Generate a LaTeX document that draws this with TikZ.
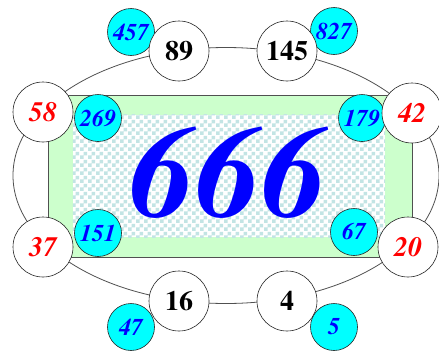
\documentclass[tikz,border=0pt]{standalone}
\usepackage{fontspec}
\setmainfont{TeX Gyre Termes}
\usetikzlibrary{patterns}
\definecolor{ringgray}{HTML}{505050}
\definecolor{paleGreen}{HTML}{CCFFCC}
\definecolor{checkc}{HTML}{C2E4E4}
\definecolor{aqua}{HTML}{00FFFF}
\definecolor{pureblue}{HTML}{0000FF}
\definecolor{purered}{HTML}{FF0000}
\pgfdeclarepatternformonly{mychecker}{\pgfqpoint{0pt}{0pt}}{\pgfqpoint{8pt}{8pt}}{\pgfqpoint{8pt}{8pt}}{%
  \pgfpathrectangle{\pgfqpoint{0pt}{0pt}}{\pgfqpoint{4pt}{4pt}}%
  \pgfpathrectangle{\pgfqpoint{4pt}{4pt}}{\pgfqpoint{4pt}{4pt}}%
  \pgfusepath{fill}}
\tikzset{
  outer/.style={circle, draw=black!85, fill=white, minimum size=60pt, inner sep=0pt, line width=0.6pt},
  rednum/.style={text=purered, font=\bfseries\itshape\fontsize{28}{28}\selectfont},
  blknum/.style={text=black, font=\bfseries\fontsize{28}{28}\selectfont},
  inner/.style={circle, draw=black!85, fill=aqua, minimum size=47pt, inner sep=0pt, line width=0.6pt, text=pureblue, font=\bfseries\itshape\fontsize{24}{24}\selectfont},
  bigtext/.style={text=pureblue, font=\bfseries\itshape\fontsize{132}{132}\selectfont, inner sep=0pt}
}
\begin{document}
\begin{tikzpicture}[x=1pt, y=-1pt]
\useasboundingbox (0,0) rectangle (439,351);
% ring
\draw[ringgray, line width=0.8pt] (226,175.5) ellipse [x radius=213, y radius=128];
% frame
\node[draw=ringgray, fill=paleGreen, line width=0.8pt, minimum width=364pt, minimum height=162pt, inner sep=0pt] (frame) at (230,176) {};
\node[fill=white, minimum width=312pt, minimum height=122pt, inner sep=0pt] (board) at (229,176) {};
\fill[pattern=mychecker, pattern color=checkc] (board.north west) rectangle (board.south east);
\node[bigtext] (big) at (228,173) {666};
% cyan circles
\node[inner] (c457) at (131,32) {457};
\node[inner] (c827) at (334,31) {827};
\node[inner] (c269) at (98,118) {269};
\node[inner] (c179) at (362,118) {179};
\node[inner] (c151) at (98,233) {151};
\node[inner] (c67) at (354,232) {67};
\node[inner] (c47) at (131,327) {47};
\node[inner] (c5) at (334,327) {5};
% white circles
\node[outer, blknum] (n89) at (179,51) {89};
\node[outer, blknum] (n145) at (287,51) {145};
\node[outer, rednum] (n58) at (43,112) {58};
\node[outer, rednum] (n42) at (412,113) {42};
\node[outer, rednum] (n37) at (43,247) {37};
\node[outer, rednum] (n20) at (408,247) {20};
\node[outer, blknum] (n16) at (179,301) {16};
\node[outer, blknum] (n4) at (287,301) {4};
\end{tikzpicture}
\end{document}
